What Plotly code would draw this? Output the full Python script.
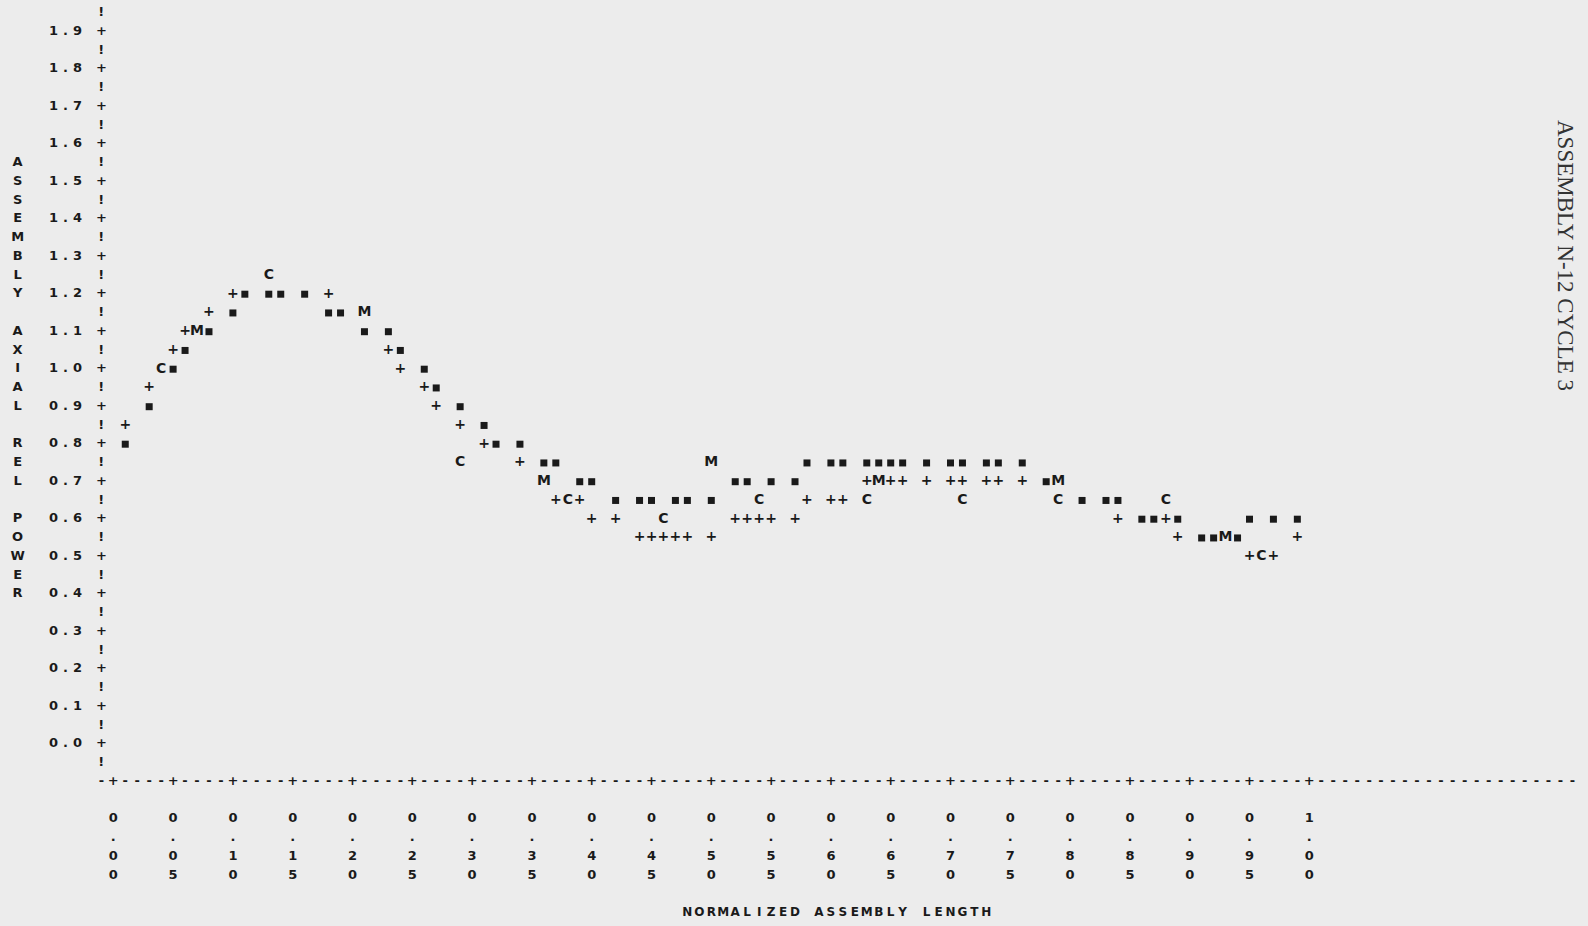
import plotly.graph_objects as go

# ---- plotted values (normalized length, relative power) ----
star_x = [0.01, 0.03, 0.05, 0.06, 0.08, 0.10, 0.11, 0.13, 0.14, 0.16, 0.18, 0.19,
          0.21, 0.23, 0.24, 0.26, 0.27, 0.29, 0.31, 0.32, 0.34, 0.36, 0.37, 0.39,
          0.40, 0.42, 0.44, 0.45, 0.47, 0.48, 0.50, 0.52, 0.53, 0.55, 0.57, 0.58,
          0.60, 0.61, 0.63, 0.64, 0.65, 0.66, 0.68, 0.70, 0.71, 0.73, 0.74, 0.76,
          0.78, 0.81, 0.83, 0.84, 0.86, 0.87, 0.89, 0.91, 0.92, 0.94, 0.95, 0.97, 0.99]
star_y = [0.80, 0.90, 1.00, 1.05, 1.10, 1.15, 1.20, 1.20, 1.20, 1.20, 1.15, 1.15,
          1.10, 1.10, 1.05, 1.00, 0.95, 0.90, 0.85, 0.80, 0.80, 0.75, 0.75, 0.70,
          0.70, 0.65, 0.65, 0.65, 0.65, 0.65, 0.65, 0.70, 0.70, 0.70, 0.70, 0.75,
          0.75, 0.75, 0.75, 0.75, 0.75, 0.75, 0.75, 0.75, 0.75, 0.75, 0.75, 0.75,
          0.70, 0.65, 0.65, 0.65, 0.60, 0.60, 0.60, 0.55, 0.55, 0.55, 0.60, 0.60, 0.60]

plus_x = [0.01, 0.03, 0.05, 0.06, 0.08, 0.10, 0.18, 0.23, 0.24, 0.26, 0.27, 0.29,
          0.31, 0.34, 0.37, 0.39, 0.40, 0.42, 0.44, 0.45, 0.46, 0.47, 0.48, 0.50,
          0.52, 0.53, 0.54, 0.55, 0.57, 0.58, 0.60, 0.61, 0.63, 0.65, 0.66, 0.68,
          0.70, 0.71, 0.73, 0.74, 0.76, 0.84, 0.88, 0.89, 0.95, 0.97, 0.99]
plus_y = [0.85, 0.95, 1.05, 1.10, 1.15, 1.20, 1.20, 1.05, 1.00, 0.95, 0.90, 0.85,
          0.80, 0.75, 0.65, 0.65, 0.60, 0.60, 0.55, 0.55, 0.55, 0.55, 0.55, 0.55,
          0.60, 0.60, 0.60, 0.60, 0.60, 0.65, 0.65, 0.65, 0.70, 0.70, 0.70, 0.70,
          0.70, 0.70, 0.70, 0.70, 0.70, 0.60, 0.60, 0.55, 0.50, 0.50, 0.55]

c_x = [0.04, 0.13, 0.29, 0.38, 0.46, 0.54, 0.63, 0.71, 0.79, 0.88, 0.96]
c_y = [1.00, 1.25, 0.75, 0.65, 0.60, 0.65, 0.65, 0.65, 0.65, 0.65, 0.50]

m_x = [0.07, 0.21, 0.36, 0.50, 0.64, 0.79, 0.93]
m_y = [1.10, 1.15, 0.70, 0.75, 0.70, 0.70, 0.55]

# ---- axis ticks and titles ----
y_ticks = [round(0.1 * i, 1) for i in range(20)]          # 0.0 .. 1.9
x_ticks = [round(0.05 * i, 2) for i in range(21)]         # 0.00 .. 1.00
x_title = "NORMALIZED ASSEMBLY LENGTH"
y_title = "ASSEMBLY AXIAL REL POWER"
side_title = "ASSEMBLY N-12 CYCLE 3"

# ---- printer grid: one column = 0.01 in x, one line = 0.05 in y ----
COL = 0.01
ROW = 0.05
W, H = 1588, 926
X0_PX, X_SCALE = 113.3, 1196.0      # pixel of x=0, pixels per unit x
Y0_PX, Y_SCALE = 744.2, 375.0       # pixel of y=0, pixels per unit y
x_range = [-X0_PX / X_SCALE, (W - X0_PX) / X_SCALE]
y_range = [(Y0_PX - H) / Y_SCALE, Y0_PX / Y_SCALE]

INK = "#1a1a1a"
PAPER = "#ececec"
MONO = "DejaVu Sans"


def chars(xs, ys, txt, size=13, color=INK, weight="bold"):
    return go.Scatter(x=xs, y=ys, mode="text", text=txt,
                      textposition="middle center", hoverinfo="skip",
                      textfont=dict(family=MONO, size=size, color=color, weight=weight),
                      showlegend=False)


fig = go.Figure()

# vertical axis: '+' at each tick line, '!' on the lines between
axis_col = -COL
n_rows = len(y_ticks)
fig.add_trace(chars([axis_col] * n_rows, y_ticks, ["+"] * n_rows))
half_rows = [round(v - ROW, 2) for v in y_ticks] + [round(y_ticks[-1] + ROW, 2)]
fig.add_trace(chars([axis_col] * len(half_rows), half_rows, ["!"] * len(half_rows)))

# horizontal axis line two lines below zero
axis_row = -2 * ROW
n_cols = int(round((x_range[1] - axis_col) / COL))
line_x, line_t = [], []
tick_set = {round(t, 2) for t in x_ticks}
for k in range(n_cols):
    xv = round(axis_col + k * COL, 2)
    line_x.append(xv)
    line_t.append("+" if xv in tick_set else "-")
fig.add_trace(chars(line_x, [axis_row] * len(line_x), line_t))

# y tick labels, one character per column
lx, ly, lt = [], [], []
for v in y_ticks:
    s = f"{v:.1f}"
    for i, ch in enumerate(s):
        lx.append(round(-5 * COL + i * COL, 2))
        ly.append(v)
        lt.append(ch)
fig.add_trace(chars(lx, ly, lt))

# x tick labels, printed vertically
tx, ty, tt = [], [], []
for t in x_ticks:
    s = f"{t:.2f}"
    for i, ch in enumerate(s):
        tx.append(t)
        ty.append(round(-4 * ROW - i * ROW, 2))
        tt.append(ch)
fig.add_trace(chars(tx, ty, tt))

# axis titles
fig.add_trace(chars([round(0.48 + i * COL, 2) for i in range(len(x_title))],
                    [-9 * ROW] * len(x_title), list(x_title), size=12))
fig.add_trace(chars([-8 * COL] * len(y_title),
                    [round(1.55 - i * ROW, 2) for i in range(len(y_title))],
                    list(y_title)))

# data symbols
fig.add_trace(go.Scatter(x=star_x, y=star_y, mode="markers", hoverinfo="skip",
                         marker=dict(symbol="square", size=7, color=INK),
                         showlegend=False))
fig.add_trace(chars(plus_x, plus_y, ["+"] * len(plus_x), size=14))
fig.add_trace(chars(c_x, c_y, ["C"] * len(c_x), size=14))
fig.add_trace(chars(m_x, m_y, ["M"] * len(m_x), size=14))

fig.add_annotation(text=side_title, xref="paper", yref="paper",
                   x=1566 / W, y=1 - 255 / H, xanchor="center", yanchor="middle",
                   textangle=90, showarrow=False,
                   font=dict(family="Liberation Serif", size=23, color="#333333"))

fig.update_layout(width=W, height=H, autosize=False,
                  margin=dict(l=0, r=0, t=0, b=0, pad=0),
                  paper_bgcolor=PAPER, plot_bgcolor=PAPER,
                  xaxis=dict(range=x_range, visible=False, fixedrange=True),
                  yaxis=dict(range=y_range, visible=False, fixedrange=True))

fig.write_html("out.html", config={"displayModeBar": False})
